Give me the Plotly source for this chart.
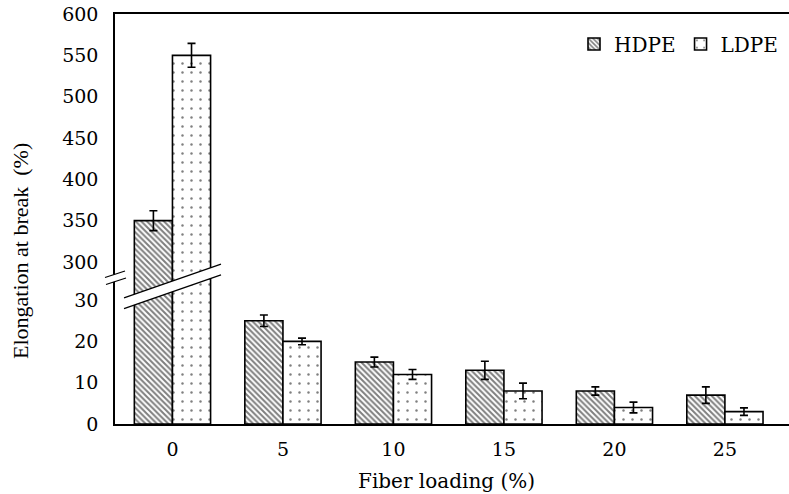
import plotly.graph_objects as go

# ---- data ----
fiber_loading = ["0", "5", "10", "15", "20", "25"]
hdpe = [350, 25, 15, 13, 8, 7]
hdpe_err = [12, 1.4, 1.2, 2.2, 1.0, 2.0]
ldpe = [550, 20, 12, 8, 4, 3]
ldpe_err = [14.5, 0.8, 1.2, 1.9, 1.3, 0.9]
lower_ticks = [0, 10, 20, 30]
upper_ticks = [300, 350, 400, 450, 500, 550, 600]

W, H = 789, 494
L, R, T, B = 115, 789, 14, 424  # plot area in px


def px(x):
    return (x - L) / (R - L)


def py(y):
    return (B - y) / (B - T)


split = py(280)
FONT = "DejaVu Serif"

hdpe_pat = dict(shape="\\", size=4, solidity=0.5, fgcolor="black", bgcolor="white")
ldpe_pat = dict(shape=".", size=9, solidity=0.06, fgcolor="black", bgcolor="white")

fig = go.Figure()
for xa, ya, show in [("x", "y", True), ("x2", "y2", False)]:
    fig.add_trace(go.Bar(
        x=fiber_loading, y=hdpe, name="HDPE", xaxis=xa, yaxis=ya, showlegend=show,
        offsetgroup="h", legendgroup="h",
        marker=dict(color="white", pattern=hdpe_pat, line=dict(color="black", width=1.6)),
        error_y=dict(type="data", array=hdpe_err, color="black", thickness=1.6, width=4),
    ))
    fig.add_trace(go.Bar(
        x=fiber_loading, y=ldpe, name="LDPE", xaxis=xa, yaxis=ya, showlegend=show,
        offsetgroup="l", legendgroup="l",
        marker=dict(color="white", pattern=ldpe_pat, line=dict(color="black", width=1.6)),
        error_y=dict(type="data", array=ldpe_err, color="black", thickness=1.6, width=4),
    ))

tickfont = dict(family=FONT, size=19, color="black")
axis_common = dict(showgrid=False, zeroline=False, ticks="", tickfont=tickfont, automargin=False)

lower_top = (B - 280) / 4.13
upper_bottom = 300 - (280 - 262) / ((262 - T) / 300)

fig.update_layout(
    width=W, height=H, autosize=False,
    margin=dict(l=L, r=W - R, t=T, b=H - B, autoexpand=False),
    paper_bgcolor="white", plot_bgcolor="white",
    barmode="group", bargap=0.31, bargroupgap=0,
    font=dict(family=FONT, color="black"),
    xaxis=dict(domain=[0, 1], anchor="y", range=[-0.52, 5.58], showline=True,
               linecolor="black", linewidth=1.6, ticklabelstandoff=7, **axis_common),
    xaxis2=dict(domain=[0, 1], anchor="y2", matches="x", range=[-0.52, 5.58], side="top",
                showline=True, linecolor="black", linewidth=1.6, showticklabels=False,
                showgrid=False, zeroline=False, ticks="", automargin=False),
    yaxis=dict(domain=[0, split], anchor="x", range=[0, lower_top], tickvals=lower_ticks,
               showline=True, linecolor="black", linewidth=1.6, ticklabelstandoff=11,
               **axis_common),
    yaxis2=dict(domain=[split, 1], anchor="x2", range=[upper_bottom, 600], tickvals=upper_ticks,
                showline=True, linecolor="black", linewidth=1.6, ticklabelstandoff=11,
                **axis_common),
    legend=dict(orientation="h", x=px(783), xanchor="right", y=py(44), yanchor="middle",
                font=dict(family=FONT, size=20, color="black"), bgcolor="rgba(0,0,0,0)",
                itemwidth=30, tracegroupgap=0),
)

# axis titles
fig.add_annotation(text="Elongation at break  (%)", xref="paper", yref="paper",
                   x=px(20), y=py(251), xanchor="center", yanchor="middle",
                   textangle=-90, showarrow=False,
                   font=dict(family="Liberation Serif", size=22, color="black"))
fig.add_annotation(text="Fiber loading (%)", xref="paper", yref="paper",
                   x=px(446), y=py(481), xanchor="center", yanchor="middle", showarrow=False,
                   font=dict(family=FONT, size=20, color="black"))

# break band across the first bar group (white gap with black edges)
slope = -33 / 95
x0, x1 = 124, 221
u0, u1 = 297.5 + slope * (x0 - 125), 297.5 + slope * (x1 - 125)
l0, l1 = 307.5 + slope * (x0 - 127), 307.5 + slope * (x1 - 127)
path = (f"M {px(x0)},{py(u0)} L {px(x1)},{py(u1)} L {px(x1)},{py(l1)} "
        f"L {px(x0)},{py(l0)} Z")
fig.add_shape(type="path", path=path, xref="paper", yref="paper",
              fillcolor="white", line=dict(width=0), layer="above")
fig.add_shape(type="line", xref="paper", yref="paper", x0=px(x0), y0=py(u0),
              x1=px(x1), y1=py(u1), line=dict(color="black", width=1.3), layer="above")
fig.add_shape(type="line", xref="paper", yref="paper", x0=px(x0), y0=py(l0),
              x1=px(x1), y1=py(l1), line=dict(color="black", width=1.3), layer="above")

# axis break marks
fig.add_shape(type="path", xref="paper", yref="paper",
              path=f"M {px(106)},{py(277)} L {px(125)},{py(271)} L {px(126)},{py(278)} L {px(107)},{py(284)} Z",
              fillcolor="white", line=dict(width=0), layer="above")
fig.add_shape(type="line", xref="paper", yref="paper", x0=px(105), y0=py(277.5),
              x1=px(125), y1=py(271), line=dict(color="black", width=1.3), layer="above")
fig.add_shape(type="line", xref="paper", yref="paper", x0=px(106), y0=py(284.5),
              x1=px(126), y1=py(278), line=dict(color="black", width=1.3), layer="above")

fig.write_html("out.html", config={"displayModeBar": False},
               post_script="document.body.style.margin='0';")
